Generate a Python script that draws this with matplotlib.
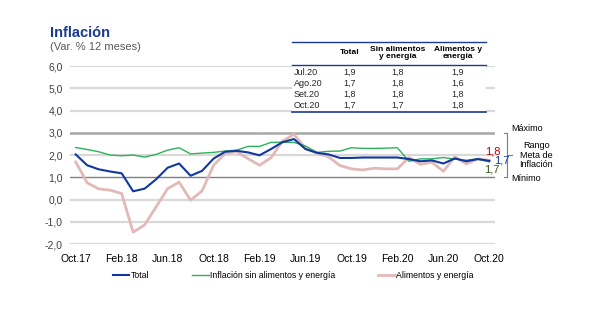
import numpy as np
import matplotlib.pyplot as plt
from matplotlib.lines import Line2D
from matplotlib.patches import Rectangle

plt.rcParams['font.family'] = ['Liberation Sans', 'DejaVu Sans']

# datos (Oct.17 - Oct.20)
total = [2.03, 1.54, 1.36, 1.26, 1.18, 0.37, 0.49, 0.91, 1.43, 1.62, 1.07, 1.29,
         1.84, 2.15, 2.19, 2.12, 1.99, 2.27, 2.58, 2.72, 2.27, 2.10, 2.03, 1.87,
         1.87, 1.89, 1.89, 1.89, 1.89, 1.82, 1.72, 1.76, 1.62, 1.85, 1.72, 1.82, 1.74]
sin_ali = [2.34, 2.25, 2.15, 2.00, 1.97, 2.00, 1.91, 2.03, 2.22, 2.33, 2.05, 2.09,
           2.12, 2.18, 2.22, 2.39, 2.39, 2.57, 2.58, 2.57, 2.41, 2.12, 2.17, 2.18,
           2.33, 2.30, 2.30, 2.31, 2.33, 1.72, 1.83, 1.83, 1.89, 1.82, 1.77, 1.83, 1.69]
ali_ene = [1.69, 0.75, 0.48, 0.42, 0.27, -1.47, -1.14, -0.33, 0.49, 0.78, -0.03, 0.39,
           1.54, 2.07, 2.15, 1.84, 1.54, 1.88, 2.63, 2.93, 2.30, 2.10, 1.92, 1.53,
           1.38, 1.33, 1.41, 1.38, 1.38, 1.89, 1.58, 1.68, 1.27, 1.92, 1.60, 1.83, 1.76]
xlabels = ['Oct.17', 'Feb.18', 'Jun.18', 'Oct.18', 'Feb.19', 'Jun.19',
           'Oct.19', 'Feb.20', 'Jun.20', 'Oct.20']

tabla_meses = ['Jul.20', 'Ago.20', 'Set.20', 'Oct.20']
tabla_total = ['1,9', '1,7', '1,8', '1,7']
tabla_sin = ['1,8', '1,8', '1,8', '1,7']
tabla_ali = ['1,9', '1,6', '1,8', '1,8']

azul = '#1038a0'
verde = '#2db25a'
rosa = '#e3b9b8'

fig = plt.figure(figsize=(6.03, 3.30), dpi=100)
ax = fig.add_axes([0.116, 0.2606, 0.705, 0.539])

x = np.arange(len(total))
for y in [6, 5, 4, 2, 0, -1, -2]:
    ax.axhline(y, color='#d9d9d9', lw=1.6, zorder=0)
ax.axhline(3, color='#a6a6a6', lw=1.8, zorder=0)
ax.axhline(1, color='#808080', lw=1.0, zorder=0)

ax.plot(x, ali_ene, color=rosa, lw=2.0, label='Alimentos y energía', zorder=2)
ax.plot(x, sin_ali, color=verde, lw=1.0, label='Inflación sin alimentos y energía', zorder=3)
ax.plot(x, total, color=azul, lw=1.5, label='Total', zorder=4)

ax.set_xlim(-0.5, 36.5)
ax.set_ylim(-2, 6)
ax.set_yticks(range(-2, 7))
ax.set_yticklabels([('%.1f' % v).replace('.', ',') for v in range(-2, 7)])
ax.set_xticks(range(0, 37, 4))
ax.set_xticklabels(xlabels)
ax.tick_params(length=0, labelsize=7.5, colors='#404040', pad=5)
ax.tick_params(axis='x', colors='black', pad=7)
for s in ax.spines.values():
    s.set_visible(False)

# ultimos valores
ax.text(36.3, 2.18, '1,8', color='#c00000', fontsize=8, ha='center', va='center', clip_on=False)
ax.text(37.05, 1.77, '1,7', color=azul, fontsize=8, ha='center', va='center', clip_on=False)
ax.text(36.2, 1.35, '1,7', color='#375623', fontsize=8, ha='center', va='center', clip_on=False)

# rango meta
bk = dict(color='#7f7f7f', lw=0.8, clip_on=False)
ax.plot([37.27, 37.55], [3, 3], **bk)
ax.plot([37.55, 37.55], [3, 1], **bk)
ax.plot([37.27, 37.55], [1, 1], **bk)
ax.plot([37.55, 38.0], [2, 2], **bk)
ax.text(37.9, 3.18, 'Máximo', fontsize=6.5, ha='left', va='center', clip_on=False)
ax.text(37.9, 0.95, 'Mínimo', fontsize=6.5, ha='left', va='center', clip_on=False)
ax.text(40.1, 2.0, 'Rango\nMeta de\nInflación', fontsize=6.5, ha='center', va='center',
        linespacing=1.1, clip_on=False)

# titulo
fig.text(50 / 603, 1 - 33 / 330, 'Inflación', fontsize=10.5, fontweight='bold',
         color='#1a3a8f', va='center')
fig.text(50 / 603, 1 - 47 / 330, '(Var. % 12 meses)', fontsize=8, color='#595959', va='center')

# tabla
W, H = 603.0, 330.0
fig.patches.append(Rectangle((292 / W, 1 - 112 / H), 194 / W, 71 / H,
                             transform=fig.transFigure, facecolor='white',
                             edgecolor='none', zorder=1))
for yy, lw in [(41.7, 1.0), (65, 1.0), (111.7, 1.2)]:
    fig.add_artist(Line2D([292 / W, 486 / W], [1 - yy / H] * 2, color='#1a3a8f', lw=lw, zorder=2))
cols = [350, 398, 458]
heads = ['Total', 'Sin alimentos\ny energía', 'Alimentos y\nenergía']
for cx, h in zip(cols, heads):
    fig.text(cx / W, 1 - 53 / H, h, fontsize=6, fontweight='bold', ha='center', va='center',
             linespacing=1.0, zorder=3)
for i, m in enumerate(tabla_meses):
    yy = 1 - (72.3 + 11 * i) / H
    fig.text(294 / W, yy, m, fontsize=6.5, ha='left', va='center', color='#262626', zorder=3)
    for cx, vals in zip(cols, [tabla_total, tabla_sin, tabla_ali]):
        fig.text(cx / W, yy, vals[i], fontsize=6.5, ha='center', va='center', color='#262626', zorder=3)

h, l = ax.get_legend_handles_labels()
order = [2, 1, 0]
fig.legend([h[k] for k in order], [l[k] for k in order], loc='center',
           bbox_to_anchor=(293 / W, 1 - 276 / H), ncol=3, frameon=False, fontsize=6.3,
           handlelength=1.9, handletextpad=0.15, columnspacing=4.9)

fig.savefig('out.png', dpi=100)
